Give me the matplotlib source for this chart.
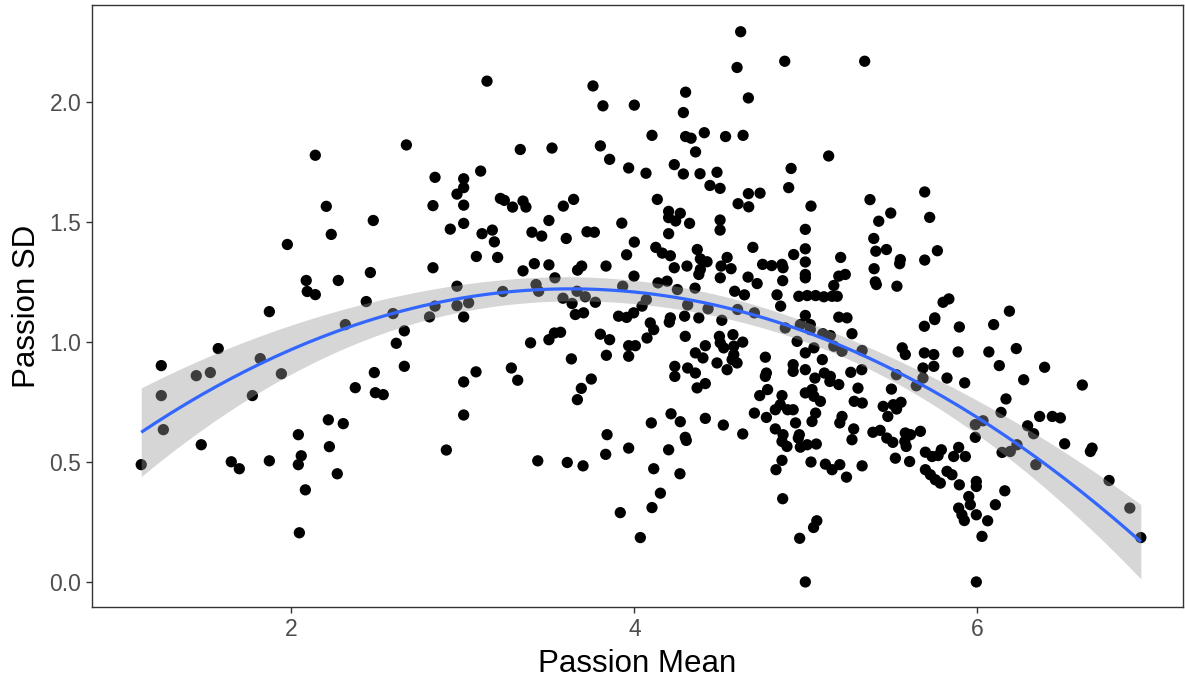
import numpy as np
import matplotlib
matplotlib.use("Agg")
import matplotlib.pyplot as plt

# ---- data (Passion Mean, Passion SD) ----
passion_mean = [
    1.125, 1.242, 1.242, 1.254, 1.446, 1.475, 1.528, 1.574, 1.650, 1.697, 1.773, 1.819, 1.872, 1.872, 1.942,
    1.977, 2.041, 2.047, 2.041, 2.058, 2.087, 2.082, 2.093, 2.140, 2.140, 2.204, 2.233, 2.216, 2.222, 2.268,
    2.274, 2.303, 2.315, 2.373, 2.437, 2.461, 2.478, 2.484, 2.490, 2.536,
    3.141, 3.759, 3.817, 2.671, 3.335, 3.520, 3.802, 3.856, 2.838, 3.005, 3.104, 3.005, 2.966, 2.826, 3.005,
    3.219, 3.242, 3.290, 3.351, 3.368, 3.586, 3.646, 2.927, 3.005, 3.112, 3.172, 3.184, 3.502, 3.403, 3.460,
    3.603, 3.724, 3.767, 3.079, 3.203, 2.826, 3.351, 3.417, 3.502, 3.693, 3.669, 3.835, 3.537, 2.966, 3.427,
    2.593, 2.838, 2.966, 3.034, 3.233, 3.442, 3.666, 3.584, 3.637, 3.714, 3.773, 2.806, 3.005, 3.656, 3.704,
    2.659, 2.612, 2.659, 3.005, 3.077, 3.005, 2.904, 3.283, 3.320, 3.395, 3.502, 3.534, 3.570, 3.802, 3.856,
    3.633, 3.837, 3.749, 3.691, 3.668, 3.841, 3.833, 3.437, 3.609, 3.701,
    4.620, 4.877, 4.599, 4.299, 4.665, 4.286, 4.000, 4.103, 4.299, 4.331, 4.408, 4.532, 4.634, 4.357, 3.967,
    4.068, 4.233, 4.286, 4.383, 4.482, 4.441, 4.500, 4.665, 4.733, 4.605, 4.667, 4.914, 4.900, 4.134, 4.200,
    4.268, 4.200, 4.241, 4.322, 3.927, 4.500, 4.500, 4.200, 4.000, 4.125, 4.163, 4.210, 3.955, 4.367, 4.691,
    4.233, 4.307, 4.385, 4.424, 4.385, 4.376, 4.541, 4.506, 4.564, 4.501, 4.748, 4.801, 4.861, 4.867, 4.663,
    4.716, 4.865, 3.998, 3.932, 4.138, 4.191, 4.251, 4.354, 4.585, 4.642, 4.832, 4.853, 4.070, 4.045, 4.311,
    4.430, 4.602, 4.700, 3.908, 3.996, 4.210, 4.293, 4.376, 3.955,
    4.093, 4.113, 4.074, 4.204, 4.297, 4.510, 3.967, 4.006, 3.967, 4.414, 4.356, 4.400, 4.496, 4.501, 4.521,
    4.575, 4.632, 4.580, 4.580, 4.599, 4.570, 4.541, 4.482, 4.236, 4.236, 4.311, 4.356, 4.366, 4.414, 4.764,
    4.770, 4.764, 4.777, 4.731, 4.861, 4.851, 4.822, 4.894, 4.700, 4.770, 4.822, 4.867, 4.861, 4.890, 4.861,
    4.826, 4.865, 4.214, 4.268, 4.099, 4.414, 4.519, 4.632, 4.297, 4.303, 4.200, 3.967, 4.113, 4.266, 4.152,
    4.103, 3.918, 4.035,
    5.343, 5.133, 5.030, 5.374, 5.693, 5.495, 5.425, 5.722, 4.997, 4.997, 4.929, 4.997, 4.997, 4.997, 5.203,
    5.230, 5.192, 5.163, 5.396, 5.408, 5.470, 5.551, 5.547, 5.693, 5.767, 5.398, 5.405, 5.411, 5.531, 5.800,
    5.834, 5.752, 4.959, 5.008, 5.057, 5.105, 5.153, 5.183, 4.997, 5.192, 5.240,
    4.968, 5.026, 5.026, 4.880, 5.099, 5.143, 5.269, 5.691, 5.751, 5.895, 4.949, 4.997, 5.047, 5.096, 5.163,
    5.211, 5.328, 5.562, 5.580, 5.691, 5.746, 5.888, 4.926, 4.926, 4.997, 5.108, 5.143, 5.262, 5.326, 5.683,
    5.746, 5.053, 5.140, 5.192, 5.528, 5.683, 5.823, 5.926, 5.644, 5.499, 5.304, 4.997, 5.036, 5.047, 5.085,
    5.282, 5.329, 5.451, 5.510, 5.555, 5.529, 4.926, 5.057, 5.211, 5.478, 4.940, 5.036, 5.198, 4.962, 4.956,
    5.279, 5.269, 5.391, 5.433, 5.472, 5.507, 5.580, 5.610, 5.668, 5.577, 5.585, 4.968, 5.008, 5.061, 5.030,
    5.114, 5.153, 5.198, 5.237, 5.328, 5.522, 5.605, 5.697, 5.736, 5.790, 5.771, 5.862, 5.891, 5.930, 5.697,
    5.726, 5.755, 5.784, 5.823, 5.852, 5.895, 5.950, 5.891, 5.910, 5.924, 5.064, 5.045, 4.964, 4.997,
    6.187, 6.095, 6.067, 6.227, 6.128, 6.392, 6.270, 6.612, 6.167, 6.138, 6.363, 6.437, 6.484, 6.033, 5.988,
    6.293, 6.328, 5.988, 6.509, 6.669, 6.659, 6.231, 6.192, 6.144, 6.341, 6.768, 6.889, 6.953, 5.994, 5.994,
    6.160, 5.959, 6.105, 5.994, 6.060, 6.027, 5.994,
]
passion_sd = [
    0.489, 0.902, 0.777, 0.635, 0.860, 0.572, 0.873, 0.973, 0.501, 0.472, 0.777, 0.931, 1.127, 0.505, 0.868,
    1.407, 0.614, 0.205, 0.489, 0.526, 1.257, 0.384, 1.211, 1.198, 1.779, 1.566, 1.449, 0.676, 0.564, 0.451,
    1.257, 0.660, 1.073, 0.810, 1.169, 1.290, 1.507, 0.873, 0.789, 0.781,
    2.088, 2.068, 1.985, 1.822, 1.803, 1.809, 1.818, 1.762, 1.687, 1.681, 1.713, 1.644, 1.617, 1.569, 1.571,
    1.599, 1.591, 1.563, 1.588, 1.563, 1.567, 1.595, 1.471, 1.495, 1.452, 1.467, 1.418, 1.507, 1.458, 1.442,
    1.432, 1.460, 1.458, 1.357, 1.353, 1.310, 1.297, 1.327, 1.322, 1.317, 1.300, 1.317, 1.268, 1.233, 1.240,
    1.119, 1.150, 1.152, 1.164, 1.211, 1.212, 1.212, 1.183, 1.161, 1.189, 1.166, 1.105, 1.105, 1.115, 1.122,
    1.047, 0.995, 0.899, 0.834, 0.876, 0.696, 0.550, 0.892, 0.841, 0.997, 1.010, 1.038, 1.041, 1.033, 1.010,
    0.930, 0.945, 0.846, 0.807, 0.760, 0.614, 0.532, 0.505, 0.498, 0.484,
    2.294, 2.171, 2.145, 2.042, 2.018, 1.957, 1.988, 1.862, 1.857, 1.850, 1.873, 1.857, 1.862, 1.793, 1.726,
    1.704, 1.740, 1.701, 1.702, 1.708, 1.653, 1.641, 1.619, 1.621, 1.577, 1.564, 1.724, 1.644, 1.595, 1.545,
    1.537, 1.519, 1.505, 1.495, 1.496, 1.509, 1.467, 1.452, 1.417, 1.395, 1.371, 1.360, 1.364, 1.386, 1.395,
    1.310, 1.317, 1.347, 1.335, 1.303, 1.282, 1.353, 1.317, 1.306, 1.268, 1.324, 1.319, 1.324, 1.310, 1.271,
    1.244, 1.256, 1.275, 1.233, 1.247, 1.254, 1.219, 1.225, 1.212, 1.197, 1.197, 1.150, 1.177, 1.150, 1.155,
    1.139, 1.136, 1.122, 1.108, 1.122, 1.101, 1.108, 1.101, 1.103,
    1.080, 1.052, 1.017, 1.083, 1.024, 1.091, 0.985, 0.985, 0.941, 0.985, 0.955, 0.934, 1.024, 0.997, 0.976,
    1.031, 1.000, 0.983, 0.948, 0.913, 0.927, 0.885, 0.913, 0.899, 0.857, 0.892, 0.871, 0.809, 0.827, 0.937,
    0.871, 0.857, 0.802, 0.777, 0.777, 0.739, 0.718, 0.718, 0.704, 0.686, 0.638, 0.614, 0.586, 0.565, 0.507,
    0.468, 0.347, 0.701, 0.668, 0.663, 0.682, 0.654, 0.617, 0.603, 0.590, 0.551, 0.558, 0.472, 0.451, 0.370,
    0.310, 0.289, 0.185,
    2.171, 1.776, 1.567, 1.594, 1.626, 1.538, 1.504, 1.520, 1.470, 1.389, 1.365, 1.334, 1.282, 1.268, 1.353,
    1.282, 1.275, 1.236, 1.432, 1.379, 1.386, 1.344, 1.327, 1.342, 1.381, 1.306, 1.251, 1.240, 1.233, 1.166,
    1.180, 1.101, 1.191, 1.194, 1.194, 1.189, 1.191, 1.191, 1.111, 1.104, 1.101,
    1.073, 1.073, 1.052, 1.059, 1.035, 1.027, 1.035, 1.066, 1.094, 1.063, 1.003, 0.955, 0.976, 0.927, 0.983,
    0.962, 0.965, 0.976, 0.948, 0.955, 0.948, 0.959, 0.906, 0.878, 0.885, 0.871, 0.857, 0.874, 0.885, 0.892,
    0.899, 0.850, 0.836, 0.823, 0.864, 0.850, 0.850, 0.830, 0.818, 0.804, 0.808, 0.788, 0.802, 0.774, 0.753,
    0.753, 0.746, 0.732, 0.739, 0.749, 0.721, 0.718, 0.704, 0.690, 0.690, 0.663, 0.669, 0.663, 0.614, 0.600,
    0.638, 0.593, 0.624, 0.632, 0.600, 0.582, 0.621, 0.614, 0.628, 0.586, 0.565, 0.562, 0.572, 0.575, 0.500,
    0.491, 0.468, 0.489, 0.437, 0.484, 0.516, 0.502, 0.541, 0.523, 0.551, 0.527, 0.523, 0.561, 0.523, 0.468,
    0.447, 0.426, 0.412, 0.461, 0.447, 0.405, 0.356, 0.308, 0.280, 0.256, 0.255, 0.227, 0.182, 0.000,
    1.129, 1.073, 0.959, 0.973, 0.902, 0.895, 0.843, 0.821, 0.763, 0.707, 0.690, 0.690, 0.684, 0.672, 0.656,
    0.651, 0.618, 0.603, 0.576, 0.558, 0.544, 0.572, 0.544, 0.540, 0.489, 0.423, 0.308, 0.185, 0.419, 0.398,
    0.380, 0.322, 0.322, 0.280, 0.255, 0.190, 0.000,
]

x_ticks = [2, 4, 6]
y_ticks = [0.0, 0.5, 1.0, 1.5, 2.0]
x_label = "Passion Mean"
y_label = "Passion SD"

x = np.asarray(passion_mean, dtype=float)
y = np.asarray(passion_sd, dtype=float)
n = min(len(x), len(y))
x, y = x[:n], y[:n]

# quadratic lm fit with 95% confidence band (like geom_smooth(method="lm", y ~ poly(x, 2)))
X = np.column_stack([np.ones(n), x, x ** 2])
beta, *_ = np.linalg.lstsq(X, y, rcond=None)
resid = y - X @ beta
s2 = resid @ resid / (n - 3)
XtX_inv = np.linalg.inv(X.T @ X)
grid = np.linspace(x.min(), x.max(), 200)
G = np.column_stack([np.ones_like(grid), grid, grid ** 2])
fit = G @ beta
se = np.sqrt(np.sum((G @ XtX_inv) * G, axis=1) * s2)
tval = 1.965
lo, hi = fit - tval * se, fit + tval * se

plt.rcParams['font.family'] = ['Liberation Sans', 'DejaVu Sans']

fig = plt.figure(figsize=(11.85, 6.81), dpi=100)
ax = fig.add_axes([92 / 1185, 1 - 607 / 681, (1183 - 92) / 1185, (607 - 5) / 681])

ax.scatter(x, y, s=66, color='black', edgecolors='none', zorder=2)
ax.fill_between(grid, lo, hi, color='#999999', alpha=0.4, linewidth=0, zorder=3)
ax.plot(grid, fit, color='#3366FF', linewidth=2.3, zorder=4, solid_capstyle='butt')

ax.set_xlim(0.838, 7.199)
ax.set_ylim(-0.1045, 2.4055)
ax.set_xticks(x_ticks)
ax.set_xticklabels([str(t) for t in x_ticks])
ax.set_yticks(y_ticks)
ax.set_yticklabels([f"{t:.1f}" for t in y_ticks])

for sp in ax.spines.values():
    sp.set_color('#333333')
    sp.set_linewidth(1.0)

ax.tick_params(axis='both', which='major', direction='out', length=4.3, width=1.0,
               color='#333333', labelcolor='#4D4D4D', labelsize=16.5, pad=3.5)

ax.set_xlabel(x_label, fontsize=22.5, color='black', labelpad=6)
ax.set_ylabel(y_label, fontsize=22.5, color='black', labelpad=5)

fig.savefig('out.png', dpi=100, facecolor='white')
